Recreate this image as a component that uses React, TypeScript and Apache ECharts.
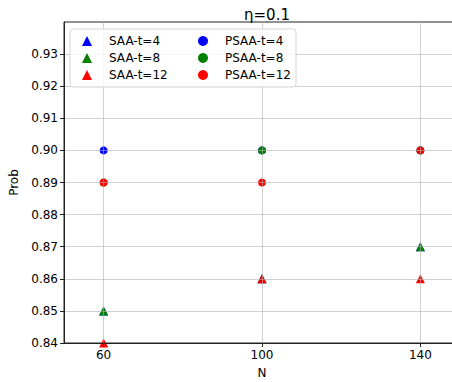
import React, { useEffect, useRef } from "react";
import * as echarts from "echarts";

const N = [60, 100, 140];
const saa4 = [0.85, 0.86, 0.87];
const saa8 = [0.85, 0.86, 0.87];
const saa12 = [0.84, 0.86, 0.86];
const psaa4 = [0.9, 0.9, 0.9];
const psaa8 = [0.89, 0.9, 0.9];
const psaa12 = [0.89, 0.89, 0.9];
const yTicks = [0.84, 0.85, 0.86, 0.87, 0.88, 0.89, 0.9, 0.91, 0.92, 0.93];

const FONT = "DejaVu Sans";

export default function App() {
  const ref = useRef<HTMLDivElement>(null);
  useEffect(() => {
    if (!ref.current) return;
    const chart = echarts.init(ref.current, undefined, { renderer: "svg" });
    const mk = (name: string, vals: number[], color: string, symbol: string, size: number) => ({
      name,
      type: "scatter",
      symbol,
      symbolSize: size,
      itemStyle: { color, opacity: 1 },
      data: N.map((n, i) => [n, vals[i]]),
      z: 2,
    });
    const gridColor = "rgba(176,176,176,0.6)";
    const legendText = { fontFamily: FONT, fontSize: 12, color: "#000", lineHeight: 12, padding: [0, 0, 0, 12] };
    chart.setOption({
      animation: false,
      backgroundColor: "#fff",
      textStyle: { fontFamily: FONT },
      title: {
        text: "η=0.1",
        left: 262,
        textAlign: "center",
        top: 2,
        textStyle: { fontFamily: FONT, fontSize: 15, fontWeight: "normal", color: "#000" },
      },
      grid: {
        left: 64,
        right: 0,
        top: 22,
        bottom: 39,
        show: true,
        borderColor: "#222",
        borderWidth: 1,
        backgroundColor: "transparent",
        containLabel: false,
        outerBoundsMode: "none",
      },
      xAxis: {
        type: "value",
        min: 50,
        max: 150,
        z: 3,
        name: "N",
        nameLocation: "middle",
        nameGap: 24,
        nameTextStyle: { fontFamily: FONT, fontSize: 12, color: "#000" },
        axisLine: { show: true, lineStyle: { color: "#222", width: 1 } },
        axisTick: { show: true, inside: false, length: 4, lineStyle: { color: "#222" }, customValues: N },
        axisLabel: { fontFamily: FONT, fontSize: 12, color: "#000", margin: 6, customValues: N },
        splitLine: { show: true, lineStyle: { color: gridColor, width: 1 } },
      },
      yAxis: {
        type: "value",
        min: 0.84,
        max: 0.94,
        interval: 0.01,
        z: 3,
        name: "Prob",
        nameLocation: "middle",
        nameGap: 40,
        nameTextStyle: { fontFamily: FONT, fontSize: 12, color: "#000" },
        axisLine: { show: true, lineStyle: { color: "#222", width: 1 } },
        axisTick: { show: true, inside: false, length: 4, lineStyle: { color: "#222" }, customValues: yTicks },
        axisLabel: {
          fontFamily: FONT,
          fontSize: 12,
          color: "#000",
          margin: 6,
          customValues: yTicks,
          formatter: (v: number) => (v > 0.935 ? "" : v.toFixed(2)),
        },
        splitLine: { show: true, lineStyle: { color: gridColor, width: 1 } },
      },
      legend: [
        {
          orient: "vertical",
          left: 82,
          top: 35,
          padding: 0,
          itemWidth: 10,
          itemHeight: 10,
          itemGap: 5,
          z: 20,
          textStyle: legendText,
          data: [
            { name: "SAA-t=4", icon: "triangle" },
            { name: "SAA-t=8", icon: "triangle" },
            { name: "SAA-t=12", icon: "triangle" },
          ],
        },
        {
          orient: "vertical",
          left: 198,
          top: 35,
          padding: 0,
          itemWidth: 10,
          itemHeight: 10,
          itemGap: 5,
          z: 20,
          textStyle: legendText,
          data: [
            { name: "PSAA-t=4", icon: "circle" },
            { name: "PSAA-t=8", icon: "circle" },
            { name: "PSAA-t=12", icon: "circle" },
          ],
        },
      ],
      graphic: [
        {
          type: "rect",
          z: 10,
          shape: { x: 70, y: 29, width: 226, height: 58, r: 3 },
          style: { fill: "rgba(255,255,255,0.8)", stroke: "#d5d5d5", lineWidth: 1 },
        },
      ],
      series: [
        mk("SAA-t=4", saa4, "#0000ff", "triangle", 9),
        mk("SAA-t=8", saa8, "#008000", "triangle", 9),
        mk("SAA-t=12", saa12, "#ff0000", "triangle", 9),
        mk("PSAA-t=4", psaa4, "#0000ff", "circle", 8),
        mk("PSAA-t=8", psaa8, "#008000", "circle", 8),
        mk("PSAA-t=12", psaa12, "#ff0000", "circle", 8),
      ],
    });
    return () => chart.dispose();
  }, []);
  return (
    <div
      style={{ position: "fixed", left: 0, top: 0, width: 452, height: 382, overflow: "hidden", background: "#fff" }}
    >
      <div ref={ref} style={{ width: 460, height: 382 }} />
    </div>
  );
}
